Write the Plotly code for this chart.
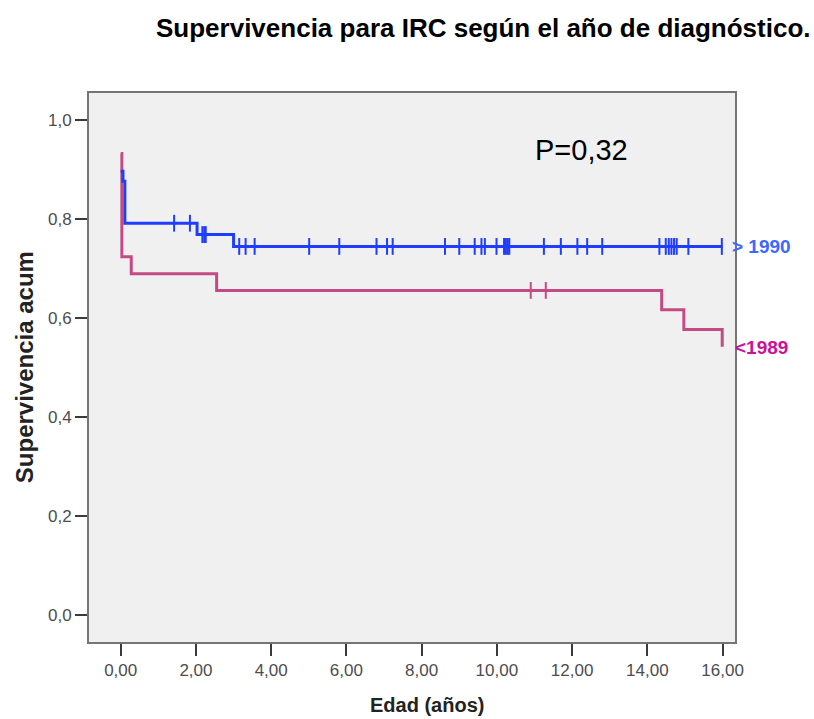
import numpy as np
import plotly.graph_objects as go

# ---- data ----
blue_times = [0.0, 0.06, 0.11, 2.03, 3.00, 16.00]
blue_surv = [0.897, 0.877, 0.792, 0.769, 0.745, 0.745]
blue_censor = [1.42, 1.84, 2.17, 2.22, 2.26, 3.15, 3.32, 3.56, 5.01, 5.81, 6.80,
               7.08, 7.23, 8.62, 9.00, 9.41, 9.59, 9.68, 9.99, 10.19, 10.24,
               10.29, 10.33, 11.25, 11.70, 12.14, 12.40, 12.80, 14.32, 14.49,
               14.57, 14.64, 14.71, 14.78, 15.09, 15.98]

red_times = [0.0, 0.03, 0.28, 2.55, 14.38, 14.97, 15.99]
red_surv = [0.933, 0.724, 0.690, 0.656, 0.617, 0.577, 0.542]
red_censor = [10.90, 11.30]

x_ticks = [0, 2, 4, 6, 8, 10, 12, 14, 16]
y_ticks = [0.0, 0.2, 0.4, 0.6, 0.8, 1.0]

blue_label = "> 1990"
red_label = "<1989"
p_text = "P=0,32"
title_text = "Supervivencia para IRC según el año de diagnóstico."
x_title = "Edad (años)"
y_title = "Supervivencia acum"

BLUE = "#1f3dff"
RED = "#c44a84"
FONT = "Liberation Sans, Arial, sans-serif"


def step_at(times, surv, pts):
    t = np.asarray(times)
    s = np.asarray(surv)
    idx = np.searchsorted(t, np.asarray(pts), side="right") - 1
    return s[idx]


fig = go.Figure()
fig.add_trace(go.Scatter(x=red_times, y=red_surv, mode="lines",
                         line=dict(color=RED, width=3, shape="hv"),
                         showlegend=False, hoverinfo="skip"))
fig.add_trace(go.Scatter(x=red_censor, y=step_at(red_times, red_surv, red_censor),
                         mode="markers",
                         marker=dict(symbol="line-ns", size=12,
                                     line=dict(color=RED, width=2)),
                         showlegend=False))
fig.add_trace(go.Scatter(x=blue_times, y=blue_surv, mode="lines",
                         line=dict(color=BLUE, width=3, shape="hv"),
                         showlegend=False, hoverinfo="skip"))
fig.add_trace(go.Scatter(x=blue_censor, y=step_at(blue_times, blue_surv, blue_censor),
                         mode="markers",
                         marker=dict(symbol="line-ns", size=12,
                                     line=dict(color=BLUE, width=2)),
                         showlegend=False))

axis_common = dict(showline=True, mirror=True, linecolor="#757575", linewidth=2,
                   showgrid=False, zeroline=False, ticks="outside",
                   tickcolor="#3a3a3a", tickwidth=2, ticklen=12,
                   tickfont=dict(family=FONT, size=17, color="#4d4d4d"))

fig.update_xaxes(range=[-0.843, 16.33], tickvals=x_ticks, tickformat=".2f",
                 **axis_common)
fig.update_yaxes(range=[-0.0552, 1.0554], tickvals=y_ticks, tickformat=".1f",
                 **axis_common)

fig.add_annotation(x=16.2, y=0.745, xref="x", yref="y", text="<b>" + blue_label + "</b>",
                   showarrow=False, xanchor="left", yanchor="middle",
                   font=dict(family=FONT, size=19, color="#3d68ff"))
fig.add_annotation(x=16.27, y=0.541, xref="x", yref="y", text="<b>" + red_label + "</b>",
                   showarrow=False, xanchor="left", yanchor="middle",
                   font=dict(family=FONT, size=19, color="#cc1199"))
fig.add_annotation(x=12.26, y=0.941, xref="x", yref="y", text=p_text,
                   showarrow=False, xanchor="center", yanchor="middle",
                   font=dict(family=FONT, size=29, color="black"))
fig.add_annotation(x=0.611, y=1.119, xref="paper", yref="paper",
                   text="<b>" + title_text + "</b>", showarrow=False,
                   xanchor="center", yanchor="middle",
                   font=dict(family=FONT, size=26, color="black"))
fig.add_annotation(x=0.523, y=-0.114, xref="paper", yref="paper",
                   text="<b>" + x_title + "</b>", showarrow=False,
                   xanchor="center", yanchor="middle",
                   font=dict(family=FONT, size=20, color="#222222"))
fig.add_annotation(x=-0.0996, y=0.5, xref="paper", yref="paper",
                   text="<b>" + y_title + "</b>", showarrow=False, textangle=-90,
                   xanchor="center", yanchor="middle",
                   font=dict(family=FONT, size=24, color="#222222"))

fig.update_layout(width=814, height=719,
                  margin=dict(l=89, r=79, t=93, b=77),
                  plot_bgcolor="#f0f0f0", paper_bgcolor="white",
                  separators=",.", showlegend=False)

fig.write_html("out.html")
